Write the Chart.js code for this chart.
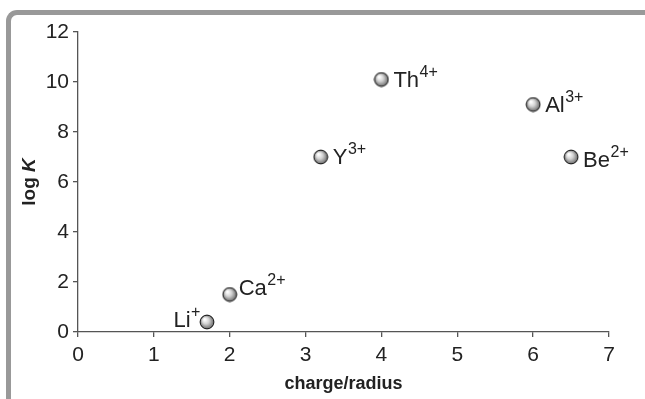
<!DOCTYPE html>
<html>
<head>
<meta charset="utf-8">
<script src="https://cdn.jsdelivr.net/npm/chart.js@4.4.1/dist/chart.umd.min.js"></script>
<style>
  html, body { margin: 0; padding: 0; background: #fff; }
  #wrap { position: relative; width: 645px; height: 399px; overflow: hidden; }
  #frame {
    position: absolute; left: 6px; top: 10px; width: 700px; height: 450px;
    border-left: 5px solid #999; border-top: 5px solid #999;
    border-top-left-radius: 11px; box-sizing: border-box;
  }
  canvas { position: absolute; left: 0; top: 0; }
</style>
</head>
<body>
<div id="wrap">
  <div id="frame"></div>
  <canvas id="chart" width="645" height="399"></canvas>
</div>
<script>
// Stability constant vs. ionic potential for metal ions
const ions      = ['Li', 'Ca', 'Y', 'Th', 'Al', 'Be'];
const charges   = ['+', '2+', '3+', '4+', '3+', '2+'];
const chargeRad = [1.7, 2.0, 3.2, 4.0, 6.0, 6.5];
const logK      = [0.4, 1.5, 7.0, 10.1, 9.1, 7.0];
const xTicks    = [0, 1, 2, 3, 4, 5, 6, 7];
const yTicks    = [0, 2, 4, 6, 8, 10, 12];

const FONT = '"Liberation Sans", Arial, Helvetica, sans-serif';
const AXIS = '#555';
const TEXT = '#222';

// label placement per ion: side of the marker, gap and vertical nudge (px)
const labelLayout = [
  { side: 'left',  gap: 7,  dy: -2 },
  { side: 'right', gap: 9,  dy: -7 },
  { side: 'right', gap: 12, dy: 0 },
  { side: 'right', gap: 12, dy: 0 },
  { side: 'right', gap: 12, dy: 0 },
  { side: 'right', gap: 12, dy: 3 }
];

// shaded sphere marker
function makeSphere(r) {
  const s = Math.ceil(r * 2 + 2);
  const c = document.createElement('canvas');
  c.width = s; c.height = s;
  const g = c.getContext('2d');
  const cx = s / 2, cy = s / 2;
  const grad = g.createRadialGradient(cx - r * 0.35, cy - r * 0.4, r * 0.1, cx, cy, r);
  grad.addColorStop(0, '#ffffff');
  grad.addColorStop(0.45, '#d2d2d2');
  grad.addColorStop(1, '#6a6a6a');
  g.beginPath();
  g.arc(cx, cy, r, 0, Math.PI * 2);
  g.fillStyle = grad;
  g.fill();
  g.lineWidth = 1;
  g.strokeStyle = '#111';
  g.stroke();
  return c;
}
const sphere = makeSphere(6.9);

const LABEL_SIZE = 22, SUP_SIZE = 16;

// ion labels with superscript charge
const ionLabels = {
  id: 'ionLabels',
  afterDatasetsDraw(chart) {
    const ctx = chart.ctx;
    const pts = chart.getDatasetMeta(0).data;
    ctx.save();
    ctx.fillStyle = TEXT;
    ctx.textBaseline = 'middle';
    ctx.textAlign = 'left';
    pts.forEach((p, i) => {
      const base = ions[i], sup = charges[i], L = labelLayout[i];
      ctx.font = LABEL_SIZE + 'px ' + FONT;
      const wb = ctx.measureText(base).width;
      ctx.font = SUP_SIZE + 'px ' + FONT;
      const ws = ctx.measureText(sup).width;
      const y = p.y + L.dy + 1;
      const x0 = L.side === 'left' ? p.x - L.gap - wb - ws : p.x + L.gap;
      ctx.font = LABEL_SIZE + 'px ' + FONT;
      ctx.fillText(base, x0, y);
      ctx.font = SUP_SIZE + 'px ' + FONT;
      ctx.fillText(sup, x0 + wb + 0.5, y - 8);
    });
    ctx.restore();
  }
};

// y-axis title: "log" bold, "K" bold italic
const yTitle = {
  id: 'yTitle',
  afterDraw(chart) {
    const ctx = chart.ctx;
    const a = chart.chartArea;
    ctx.save();
    ctx.translate(30, (a.top + a.bottom) / 2);
    ctx.rotate(-Math.PI / 2);
    ctx.fillStyle = TEXT;
    ctx.textBaseline = 'middle';
    const f1 = 'bold 19px ' + FONT, f2 = 'italic bold 19px ' + FONT;
    ctx.font = f1;
    const w1 = ctx.measureText('log ').width;
    ctx.font = f2;
    const w2 = ctx.measureText('K').width;
    const x0 = -(w1 + w2) / 2;
    ctx.textAlign = 'left';
    ctx.font = f1;
    ctx.fillText('log ', x0, 0);
    ctx.font = f2;
    ctx.fillText('K', x0 + w1, 0);
    ctx.restore();
  }
};

new Chart(document.getElementById('chart'), {
  type: 'scatter',
  data: {
    datasets: [{
      data: chargeRad.map((x, i) => ({ x: x, y: logK[i] })),
      pointStyle: sphere,
      pointRadius: 7,
      pointHoverRadius: 7
    }]
  },
  options: {
    responsive: false,
    animation: false,
    events: [],
    layout: { padding: { left: 0, right: 36, top: 32, bottom: 0 } },
    plugins: { legend: { display: false }, tooltip: { enabled: false } },
    scales: {
      x: {
        type: 'linear',
        min: 0, max: 7,
        afterBuildTicks: s => { s.ticks = xTicks.map(v => ({ value: v })); },
        afterFit: s => { s.height = 67; },
        grid: { drawOnChartArea: false, drawTicks: true, tickLength: 5, tickColor: AXIS, lineWidth: 1.3 },
        border: { display: true, color: AXIS, width: 1.3 },
        ticks: { color: TEXT, font: { family: FONT, size: 21 }, padding: 6 },
        title: { display: true, text: 'charge/radius', color: TEXT, font: { family: FONT, size: 18, weight: 'bold' }, padding: { top: 2, bottom: 4 } }
      },
      y: {
        type: 'linear',
        min: 0, max: 12,
        afterBuildTicks: s => { s.ticks = yTicks.map(v => ({ value: v })); },
        afterFit: s => { s.width = 78; },
        grid: { drawOnChartArea: false, drawTicks: true, tickLength: 5, tickColor: AXIS, lineWidth: 1.3 },
        border: { display: true, color: AXIS, width: 1.3 },
        ticks: { color: TEXT, font: { family: FONT, size: 21 }, padding: 4 }
      }
    }
  },
  plugins: [ionLabels, yTitle]
});
</script>
</body>
</html>
